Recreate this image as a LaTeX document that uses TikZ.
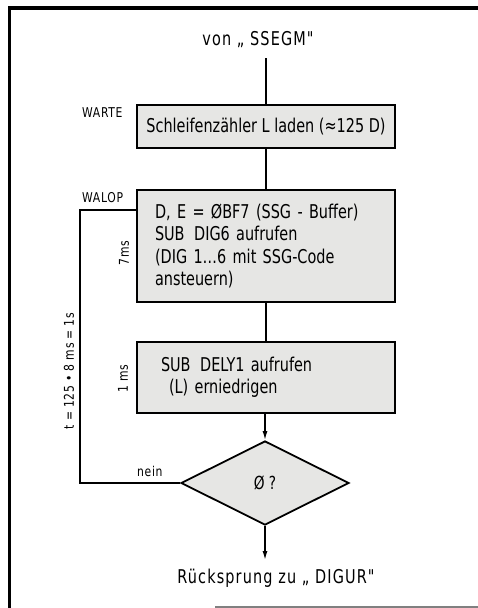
\documentclass[tikz,border=0pt]{standalone}
\usepackage{fontspec}
\setmainfont[FakeStretch=0.76]{DejaVu Sans}
\newfontfamily\widefont[FakeStretch=0.76,LetterSpace=6]{DejaVu Sans}
\newfontfamily\lblfont[FakeStretch=0.8,LetterSpace=5]{DejaVu Sans}
\usetikzlibrary{shapes.geometric,arrows.meta}
\definecolor{boxgray}{HTML}{E6E6E4}
\tikzset{
  box/.style={draw, line width=1.8pt, fill=boxgray, minimum width=258pt, inner ysep=0pt, inner xsep=0pt},
  boxtxt/.style={font=\fontsize{19}{22.5}\selectfont},
  lbl/.style={font=\lblfont\fontsize{13.5}{15}\selectfont, inner sep=0pt},
  mid/.style={font=\widefont\fontsize{19}{20}\selectfont, inner sep=0pt},
  conn/.style={line width=1.4pt},
  arr/.style={line width=1.4pt, -{Latex[length=9pt,width=5pt]}},
}
\begin{document}
\begin{tikzpicture}[x=1pt,y=-1pt]
\useasboundingbox (0,0) rectangle (478,608);
% frame
\draw[line width=3.5pt] (9.5,608) -- (9.5,8) -- (478,8);
\draw[line width=2pt, gray] (215,606.5) -- (478,606.5);

\node[mid] (von) at (258,40) {von „ SSEGM"};
\coordinate (vonend) at (266,58);

\node[box, boxtxt, minimum height=43pt, align=center] (b1) at (266,126.5) {Schleifenzähler L laden (≈125 D)};
\node[lbl, anchor=west] (warte) at (82,113) {WARTE};

\node[box, boxtxt, minimum height=112pt, align=left, text width=222pt] (b2) at (266,246)
  {D, E = ØBF7 (SSG - Buffer)\\SUB\enspace DIG6 aufrufen\\(DIG 1…6 mit SSG-Code\\ansteuern)};
\node[lbl, anchor=west] (walop) at (82,198) {WALOP};
\node[lbl, rotate=90] (t7) at (124,253) {7ms};

\node[box, boxtxt, minimum height=71pt, align=left, text width=210pt] (b3) at (266,377.5)
  {SUB\enspace DELY1 aufrufen\\\hspace*{8pt}(L) erniedrigen};
\node[lbl, rotate=90] (t1) at (123,379) {1 ms};

\node[diamond, draw, line width=1.8pt, fill=boxgray, minimum width=168pt, minimum height=84pt, inner sep=0pt, font=\fontsize{18}{20}\selectfont] (d) at (265,483) {Ø ?};
\node[lbl, anchor=base west] (nein) at (137,476) {nein};

\node[lbl, rotate=90] (tt) at (69,371) {t = 125 • 8 ms = 1s};

\coordinate (lb) at (80,483);
\coordinate (lt) at (80,210);
\coordinate (endp) at (265,560);
\node[mid] (rueck) at (276,578) {Rücksprung zu „ DIGUR"};

\draw[conn] (vonend) -- (b1.north);
\draw[conn] (b1.south) -- (b2.north);
\draw[conn] (b2.south) -- (b3.south |- b3.north);
\draw[arr] (b3.south -| d.north) -- (d.north);
\draw[arr] (d.south) -- (endp);
\draw[conn] (d.west) -- (lb) -- (lt) -- (b2.west |- lt);
\end{tikzpicture}
\end{document}
